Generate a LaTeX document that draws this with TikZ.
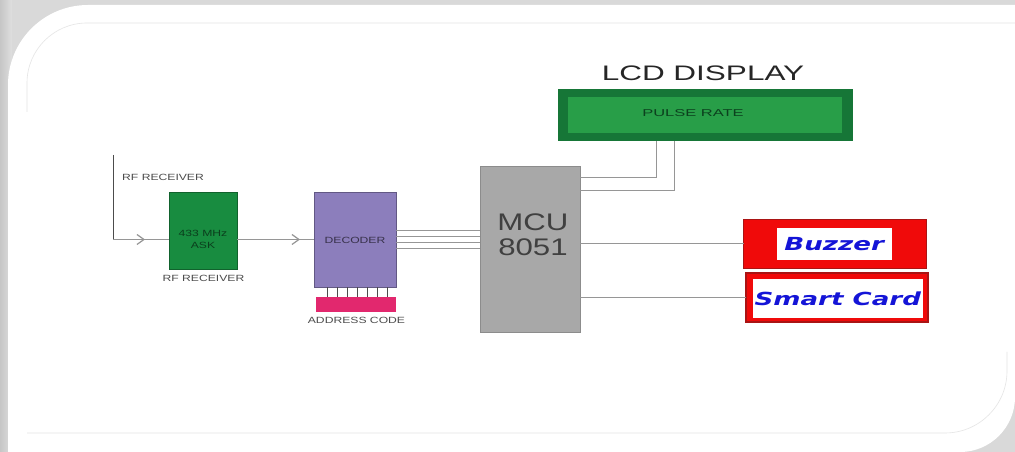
\documentclass[tikz,border=0pt]{standalone}
\usepackage{fontspec}
\setmainfont{Liberation Sans}
\newfontfamily\dvs{DejaVu Sans}
\usetikzlibrary{decorations.markings,arrows.meta}
\newcommand\hstr[2]{\scalebox{#1}[1]{#2}}
\definecolor{rfgreen}{RGB}{24,140,64}
\definecolor{lcdouter}{RGB}{22,118,55}
\definecolor{lcdinner}{RGB}{40,158,72}
\definecolor{decpurple}{RGB}{140,126,188}
\definecolor{addrpink}{RGB}{226,40,110}
\definecolor{mcugray}{RGB}{168,168,168}
\definecolor{wire}{RGB}{150,150,150}
\definecolor{bzred}{RGB}{240,10,10}
\definecolor{scdark}{RGB}{170,20,20}
\definecolor{txtblue}{RGB}{20,20,215}
\tikzset{
  blk/.style={rectangle, inner sep=0pt, outer sep=0pt},
  small/.style={font=\fontsize{9}{11}\selectfont, text=black!70, inner sep=0pt},
  wireln/.style={draw=wire, line width=1.2pt},
  chev/.style={postaction={decorate}, decoration={markings, mark=at position #1 with {\arrow[wire, line width=1.2pt]{Straight Barb[length=7pt,width=10pt]}}}},
  cardtxt/.style={font=\dvs\bfseries\itshape\fontsize{18}{18}\selectfont, text=txtblue, inner sep=0pt}
}
\begin{document}
\begin{tikzpicture}[x=1pt,y=1pt]
\useasboundingbox (0,0) rectangle (1015,452);
% background frame
\fill[gray!30] (0,0) rectangle (1015,452);
\shade[left color=gray!45, right color=gray!25] (0,0) rectangle (12,452);
\fill[white] (8,0) -- (8,367) arc[start angle=180,end angle=90,radius=80] -- (1015,447) -- (1015,55) arc[start angle=0,end angle=-90,radius=55] -- cycle;
\draw[gray!20, line width=0.6pt] (27,340) -- (27,369) arc[start angle=180,end angle=90,radius=60] -- (1015,429);
\draw[gray!20, line width=0.6pt] (27,19) -- (945,19) arc[start angle=-90,end angle=0,radius=62] -- (1007,100);

% blocks
\node[blk, fill=rfgreen, draw=rfgreen!70!black, minimum width=68pt, minimum height=77pt] (rf) at (203,221.5) {};
\node[font=\fontsize{9}{12}\selectfont, text=rfgreen!45!black, align=center, inner sep=0pt] (rftxt) at (203,213) {\hstr{1.35}{433 MHz}\\\hstr{1.35}{ASK}};
\node[small, anchor=west] (rflabtop) at (122,275) {\hstr{1.35}{RF RECEIVER}};
\node[small] (rflabbot) at (203.5,174) {\hstr{1.35}{RF RECEIVER}};
\coordinate (ant) at (113,297);

\node[blk, fill=decpurple, draw=decpurple!70!black, minimum width=82pt, minimum height=95pt] (dec) at (355,212.5) {};
\node[small, text=decpurple!40!black] (dectxt) at (355,212) {\hstr{1.35}{DECODER}};
\node[blk, fill=addrpink, minimum width=80pt, minimum height=15pt] (addr) at (356.3,147.5) {};
\node[small] (addrtxt) at (356.5,132) {\hstr{1.35}{ADDRESS CODE}};
\foreach \px in {327,337,347,357,367,377,387}
  \draw[black!70, line width=0.8pt] (addr.north -| \px,0) -- (dec.south -| \px,0);

\node[blk, fill=mcugray, draw=black!45, line width=0.8pt, minimum width=100pt, minimum height=166pt] (mcu) at (530,203) {};
\node[font=\fontsize{24}{25}\selectfont, text=black!75, align=center, inner sep=0pt] (mcutxt) at (533,217.5) {\hstr{1.3}{MCU}\\\hstr{1.3}{8051}};

\node[blk, fill=lcdouter, minimum width=295pt, minimum height=52pt] (lcd) at (705.5,337) {};
\node[blk, fill=lcdinner, minimum width=274pt, minimum height=36pt] (lcdin) at (705,337) {};
\node[font=\fontsize{10}{12}\selectfont, text=lcdouter!55!black, inner sep=0pt] (pulse) at (693,339) {\hstr{1.65}{PULSE RATE}};
\node[font=\fontsize{21}{22}\selectfont, text=black!85, inner sep=0pt] (lcdlab) at (703,379) {\hstr{1.5}{LCD DISPLAY}};

\node[blk, fill=bzred, draw=scdark, line width=0.8pt, minimum width=183pt, minimum height=49pt] (buz) at (835.3,208.5) {};
\node[blk, fill=white, minimum width=115pt, minimum height=32pt] (buzin) at (834.2,208) {};
\node[cardtxt] (buztxt) at (834.2,208) {\hstr{1.45}{Buzzer}};

\node[blk, fill=bzred, draw=scdark, line width=1.5pt, minimum width=182pt, minimum height=49pt] (sc) at (836.8,154.5) {};
\node[blk, fill=white, minimum width=170pt, minimum height=39pt] (scin) at (837.8,153.5) {};
\node[cardtxt] (sctxt) at (837.8,153.5) {\hstr{1.45}{Smart Card}};

% connectors
\draw[black!70, line width=0.8pt] (ant) -- (ant |- dec.west);
\draw[wireln, chev=-24pt] (ant |- dec.west) -- (rf.west |- dec.west);
\draw[wireln, chev=-14pt] (rf.east |- dec.west) -- (dec.west);
\foreach \dy in {9,3,-3,-9}
  \draw[wireln, line width=1pt] ([yshift=\dy pt]dec.east) -- ([yshift=\dy pt]dec.east -| mcu.west);
\draw[wireln, line width=1pt] ([yshift=-12pt]mcu.north east) -| ([xshift=98pt]lcd.south west);
\draw[wireln, line width=1pt] ([yshift=-25pt]mcu.north east) -| ([xshift=116pt]lcd.south west);
\draw[wireln] (buz.west -| mcu.east) -- (buz.west);
\draw[wireln] (sc.west -| mcu.east) -- (sc.west);
\end{tikzpicture}
\end{document}
